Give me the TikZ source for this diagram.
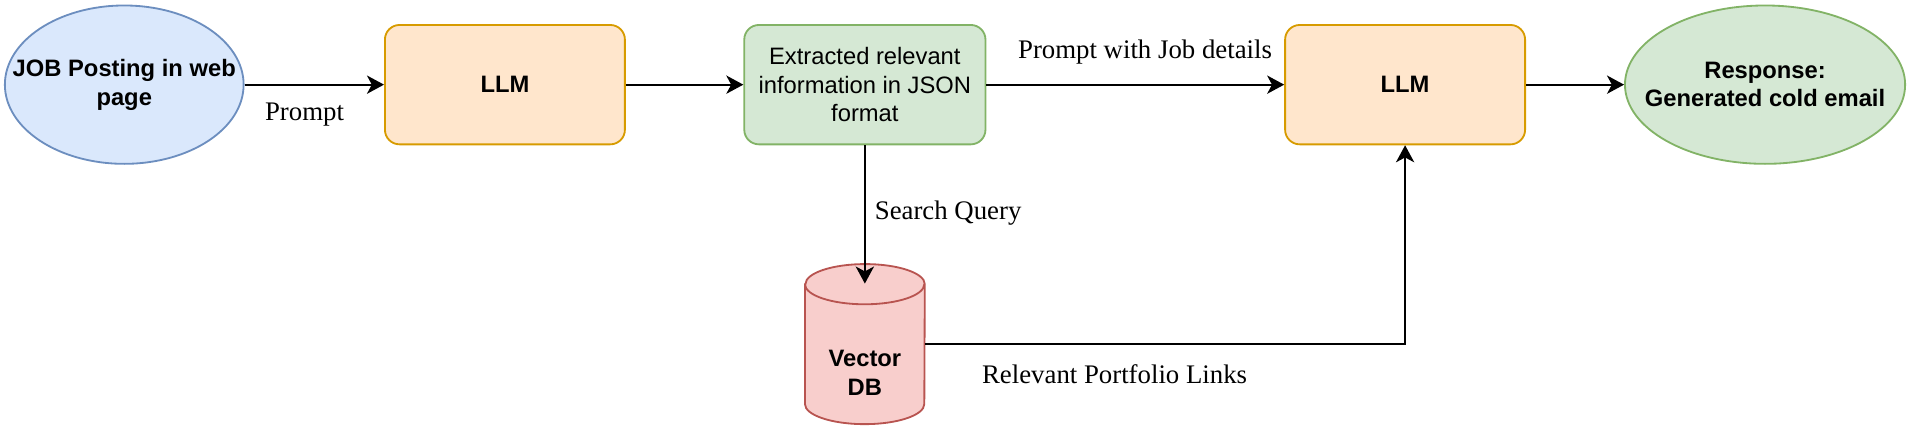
\documentclass[tikz,border=0pt]{standalone}
\usepackage{fontspec}
\setmainfont{Liberation Serif}
\setsansfont{Liberation Sans}
\usetikzlibrary{%
	positioning,
	calc,
	arrows.meta,
	shapes.geometric
}
\definecolor{jobfill}{HTML}{DAE8FC}
\definecolor{jobline}{HTML}{6C8EBF}
\definecolor{llmfill}{HTML}{FFE6CC}
\definecolor{llmline}{HTML}{D79B00}
\definecolor{okfill}{HTML}{D5E8D4}
\definecolor{okline}{HTML}{82B366}
\definecolor{dbfill}{HTML}{F8CECC}
\definecolor{dbline}{HTML}{B85450}

\begin{document}
\begin{tikzpicture}[x=1pt,y=-1pt,
		SNode/.style={font=\sffamily\fontsize{19.5}{23.4}\selectfont,align=center,inner sep=0pt,line width=1.5pt},
		SEllipse/.style={SNode,shape=ellipse,minimum height=130pt,font=\sffamily\bfseries\fontsize{19.5}{23.4}\selectfont},
		SBox/.style={SNode,shape=rectangle,rounded corners=12pt,minimum width=197pt,minimum height=98pt},
		llm/.style={SBox,draw=llmline,fill=llmfill,font=\sffamily\bfseries\fontsize{19.5}{23.4}\selectfont},
		link/.style={line width=1.6pt,-{Stealth[length=14pt,width=15pt,inset=4pt]}},
		title/.style={font=\fontsize{22}{26}\selectfont,inner sep=1pt}
	]
	\useasboundingbox (0,0) rectangle (1568,353);
	
	%top row
	\node (job) [SEllipse,draw=jobline,fill=jobfill,minimum width=196pt,inner xsep=-23pt] at (102,69.5) {JOB Posting in web\\page};
	\node (llm1) [llm] at (414.5,69.5) {LLM};
	\node (info) [SBox,draw=okline,fill=okfill,minimum width=198pt] at (710,69.5) {Extracted relevant\\information in JSON\\format};
	\node (llm2) [llm] at (1153.5,69.5) {LLM};
	\node (resp) [SEllipse,draw=okline,fill=okfill,minimum width=230pt,inner xsep=-18pt] at (1449,69.5) {Response:\\Generated cold email};
	
	%DB
	\node (db) [shape=rectangle,inner sep=0pt,minimum width=98pt,minimum height=131pt] at (710,282.5) {};
	\draw [draw=dbline,fill=dbfill,line width=1.5pt] ($(db.north west)+(0,16.5)$) -- ($(db.south west)+(0,-16.5)$) arc[start angle=180,end angle=360,x radius=49pt,y radius=16.5pt] -- ($(db.north east)+(0,16.5)$) arc[start angle=0,end angle=180,x radius=49pt,y radius=16.5pt] -- cycle;
	\draw [draw=dbline,line width=1.5pt] ($(db.north west)+(0,16.5)$) arc[start angle=180,end angle=360,x radius=49pt,y radius=16.5pt];
	\node (dbtext) [SNode,font=\sffamily\bfseries\fontsize{19.5}{23.4}\selectfont] at (710,306) {Vector\\DB};
	\coordinate (dbtop) at ($(db.north)+(0,16)$);
	
	\draw [link] (job) -- (llm1);
	\draw [link] (llm1) -- (info);
	\draw [link] (info) -- (llm2);
	\draw [link] (llm2) -- (resp);
	\draw [link] (info) -- (dbtop);
	\draw [link] (db.east) -| (llm2.south);
	
	\node (l-prompt) [title] at (250,94) {Prompt};
	\node (l-details) [title] at (940,43) {Prompt with Job details};
	\node (l-query) [title,anchor=west] at (717,175) {Search Query};
	\node (l-links) [title] at (915,307) {Relevant Portfolio Links};
	
\end{tikzpicture}
\end{document}
